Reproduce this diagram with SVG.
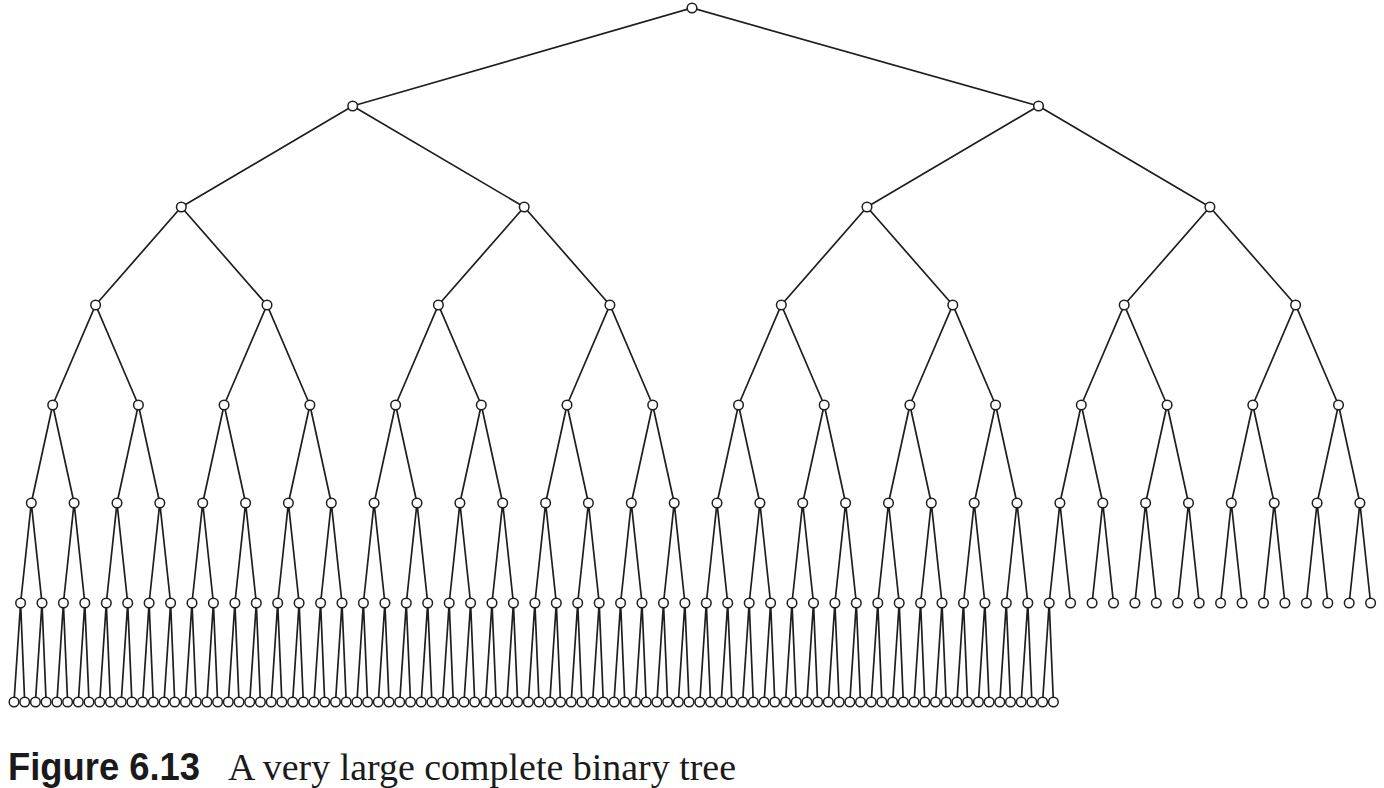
<svg xmlns="http://www.w3.org/2000/svg" width="1384" height="788" viewBox="0 0 1384 788">
<style>
.edge{fill:none;stroke:#1e1e1e;stroke-width:1.7;stroke-linejoin:miter}
.node circle{fill:#fff;stroke:#1e1e1e;stroke-width:1.5}
.cap1{font-family:"Liberation Sans",Arial,sans-serif;font-weight:bold;font-size:39px;fill:#1a1a1a}
.cap2{font-family:"Liberation Serif","Times New Roman",serif;font-size:38px;fill:#1a1a1a}
</style>
<rect width="1384" height="788" fill="#fff"/>
<g id="connectors">
<path class="edge" d="M352.7 106L692 8L1038.5 106"/>
<path class="edge" d="M181.3 207L352.7 106L524.2 207M867.0 207L1038.5 106L1209.9 207"/>
<path class="edge" d="M95.6 305L181.3 207L267.0 305M438.4 305L524.2 207L609.9 305M781.3 305L867.0 207L952.8 305M1124.2 305L1209.9 207L1295.6 305"/>
<path class="edge" d="M52.7 405L95.6 305L138.4 405M224.1 405L267.0 305L309.9 405M395.6 405L438.4 305L481.3 405M567.0 405L609.9 305L652.7 405M738.5 405L781.3 305L824.2 405M909.9 405L952.8 305L995.6 405M1081.3 405L1124.2 305L1167.1 405M1252.8 405L1295.6 305L1338.5 405"/>
<path class="edge" d="M31.3 503L52.7 405L74.1 503M117.0 503L138.4 405L159.8 503M202.7 503L224.1 405L245.6 503M288.4 503L309.9 405L331.3 503M374.1 503L395.6 405L417.0 503M459.9 503L481.3 405L502.7 503M545.6 503L567.0 405L588.4 503M631.3 503L652.7 405L674.2 503M717.0 503L738.5 405L759.9 503M802.7 503L824.2 405L845.6 503M888.5 503L909.9 405L931.3 503M974.2 503L995.6 405L1017.0 503M1059.9 503L1081.3 405L1102.8 503M1145.6 503L1167.1 405L1188.5 503M1231.3 503L1252.8 405L1274.2 503M1317.1 503L1338.5 405L1359.9 503"/>
<path class="edge" d="M20.6 603L31.3 503L42.0 603M63.4 603L74.1 503L84.8 603M106.3 603L117.0 503L127.7 603M149.1 603L159.8 503L170.6 603M192.0 603L202.7 503L213.4 603M234.9 603L245.6 503L256.3 603M277.7 603L288.4 503L299.1 603M320.6 603L331.3 503L342.0 603M363.4 603L374.1 503L384.9 603M406.3 603L417.0 503L427.7 603M449.2 603L459.9 503L470.6 603M492.0 603L502.7 503L513.4 603M534.9 603L545.6 503L556.3 603M577.7 603L588.4 503L599.2 603M620.6 603L631.3 503L642.0 603M663.5 603L674.2 503L684.9 603M706.3 603L717.0 503L727.7 603M749.2 603L759.9 503L770.6 603M792.0 603L802.7 503L813.5 603M834.9 603L845.6 503L856.3 603M877.8 603L888.5 503L899.2 603M920.6 603L931.3 503L942.0 603M963.5 603L974.2 503L984.9 603M1006.3 603L1017.0 503L1027.8 603M1049.2 603L1059.9 503L1070.6 603M1092.1 603L1102.8 503L1113.5 603M1134.9 603L1145.6 503L1156.3 603M1177.8 603L1188.5 503L1199.2 603M1220.6 603L1231.3 503L1242.1 603M1263.5 603L1274.2 503L1284.9 603M1306.4 603L1317.1 503L1327.8 603M1349.2 603L1359.9 503L1370.6 603"/>
<path class="edge" d="M14.0 702L20.6 603L24.7 702M35.4 702L42.0 603L46.1 702M56.9 702L63.4 603L67.6 702M78.3 702L84.8 603L89.0 702M99.7 702L106.3 603L110.4 702M121.2 702L127.7 603L131.9 702M142.6 702L149.1 603L153.3 702M164.0 702L170.6 603L174.7 702M185.4 702L192.0 603L196.2 702M206.9 702L213.4 603L217.6 702M228.3 702L234.9 603L239.0 702M249.7 702L256.3 603L260.4 702M271.2 702L277.7 603L281.9 702M292.6 702L299.1 603L303.3 702M314.0 702L320.6 603L324.7 702M335.5 702L342.0 603L346.2 702M356.9 702L363.4 603L367.6 702M378.3 702L384.9 603L389.0 702M399.7 702L406.3 603L410.5 702M421.2 702L427.7 603L431.9 702M442.6 702L449.2 603L453.3 702M464.0 702L470.6 603L474.7 702M485.5 702L492.0 603L496.2 702M506.9 702L513.4 603L517.6 702M528.3 702L534.9 603L539.0 702M549.8 702L556.3 603L560.5 702M571.2 702L577.7 603L581.9 702M592.6 702L599.2 603L603.3 702M614.0 702L620.6 603L624.8 702M635.5 702L642.0 603L646.2 702M656.9 702L663.5 603L667.6 702M678.3 702L684.9 603L689.0 702M699.8 702L706.3 603L710.5 702M721.2 702L727.7 603L731.9 702M742.6 702L749.2 603L753.3 702M764.1 702L770.6 603L774.8 702M785.5 702L792.0 603L796.2 702M806.9 702L813.5 603L817.6 702M828.3 702L834.9 603L839.1 702M849.8 702L856.3 603L860.5 702M871.2 702L877.8 603L881.9 702M892.6 702L899.2 603L903.3 702M914.1 702L920.6 603L924.8 702M935.5 702L942.0 603L946.2 702M956.9 702L963.5 603L967.6 702M978.4 702L984.9 603L989.1 702M999.8 702L1006.3 603L1010.5 702M1021.2 702L1027.8 603L1031.9 702M1042.6 702L1049.2 603L1053.4 702"/>
</g>
<g id="nodes" class="node">
<g id="n0-0"><circle cx="692" cy="8" r="4.8"/></g>
<g id="n1-0"><circle cx="352.7" cy="106" r="4.8"/></g>
<g id="n1-1"><circle cx="1038.5" cy="106" r="4.8"/></g>
<g id="n2-0"><circle cx="181.3" cy="207" r="4.8"/></g>
<g id="n2-1"><circle cx="524.2" cy="207" r="4.8"/></g>
<g id="n2-2"><circle cx="867.0" cy="207" r="4.8"/></g>
<g id="n2-3"><circle cx="1209.9" cy="207" r="4.8"/></g>
<g id="n3-0"><circle cx="95.6" cy="305" r="4.8"/></g>
<g id="n3-1"><circle cx="267.0" cy="305" r="4.8"/></g>
<g id="n3-2"><circle cx="438.4" cy="305" r="4.8"/></g>
<g id="n3-3"><circle cx="609.9" cy="305" r="4.8"/></g>
<g id="n3-4"><circle cx="781.3" cy="305" r="4.8"/></g>
<g id="n3-5"><circle cx="952.8" cy="305" r="4.8"/></g>
<g id="n3-6"><circle cx="1124.2" cy="305" r="4.8"/></g>
<g id="n3-7"><circle cx="1295.6" cy="305" r="4.8"/></g>
<g id="n4-0"><circle cx="52.7" cy="405" r="4.8"/></g>
<g id="n4-1"><circle cx="138.4" cy="405" r="4.8"/></g>
<g id="n4-2"><circle cx="224.1" cy="405" r="4.8"/></g>
<g id="n4-3"><circle cx="309.9" cy="405" r="4.8"/></g>
<g id="n4-4"><circle cx="395.6" cy="405" r="4.8"/></g>
<g id="n4-5"><circle cx="481.3" cy="405" r="4.8"/></g>
<g id="n4-6"><circle cx="567.0" cy="405" r="4.8"/></g>
<g id="n4-7"><circle cx="652.7" cy="405" r="4.8"/></g>
<g id="n4-8"><circle cx="738.5" cy="405" r="4.8"/></g>
<g id="n4-9"><circle cx="824.2" cy="405" r="4.8"/></g>
<g id="n4-10"><circle cx="909.9" cy="405" r="4.8"/></g>
<g id="n4-11"><circle cx="995.6" cy="405" r="4.8"/></g>
<g id="n4-12"><circle cx="1081.3" cy="405" r="4.8"/></g>
<g id="n4-13"><circle cx="1167.1" cy="405" r="4.8"/></g>
<g id="n4-14"><circle cx="1252.8" cy="405" r="4.8"/></g>
<g id="n4-15"><circle cx="1338.5" cy="405" r="4.8"/></g>
<g id="n5-0"><circle cx="31.3" cy="503" r="4.8"/></g>
<g id="n5-1"><circle cx="74.1" cy="503" r="4.8"/></g>
<g id="n5-2"><circle cx="117.0" cy="503" r="4.8"/></g>
<g id="n5-3"><circle cx="159.8" cy="503" r="4.8"/></g>
<g id="n5-4"><circle cx="202.7" cy="503" r="4.8"/></g>
<g id="n5-5"><circle cx="245.6" cy="503" r="4.8"/></g>
<g id="n5-6"><circle cx="288.4" cy="503" r="4.8"/></g>
<g id="n5-7"><circle cx="331.3" cy="503" r="4.8"/></g>
<g id="n5-8"><circle cx="374.1" cy="503" r="4.8"/></g>
<g id="n5-9"><circle cx="417.0" cy="503" r="4.8"/></g>
<g id="n5-10"><circle cx="459.9" cy="503" r="4.8"/></g>
<g id="n5-11"><circle cx="502.7" cy="503" r="4.8"/></g>
<g id="n5-12"><circle cx="545.6" cy="503" r="4.8"/></g>
<g id="n5-13"><circle cx="588.4" cy="503" r="4.8"/></g>
<g id="n5-14"><circle cx="631.3" cy="503" r="4.8"/></g>
<g id="n5-15"><circle cx="674.2" cy="503" r="4.8"/></g>
<g id="n5-16"><circle cx="717.0" cy="503" r="4.8"/></g>
<g id="n5-17"><circle cx="759.9" cy="503" r="4.8"/></g>
<g id="n5-18"><circle cx="802.7" cy="503" r="4.8"/></g>
<g id="n5-19"><circle cx="845.6" cy="503" r="4.8"/></g>
<g id="n5-20"><circle cx="888.5" cy="503" r="4.8"/></g>
<g id="n5-21"><circle cx="931.3" cy="503" r="4.8"/></g>
<g id="n5-22"><circle cx="974.2" cy="503" r="4.8"/></g>
<g id="n5-23"><circle cx="1017.0" cy="503" r="4.8"/></g>
<g id="n5-24"><circle cx="1059.9" cy="503" r="4.8"/></g>
<g id="n5-25"><circle cx="1102.8" cy="503" r="4.8"/></g>
<g id="n5-26"><circle cx="1145.6" cy="503" r="4.8"/></g>
<g id="n5-27"><circle cx="1188.5" cy="503" r="4.8"/></g>
<g id="n5-28"><circle cx="1231.3" cy="503" r="4.8"/></g>
<g id="n5-29"><circle cx="1274.2" cy="503" r="4.8"/></g>
<g id="n5-30"><circle cx="1317.1" cy="503" r="4.8"/></g>
<g id="n5-31"><circle cx="1359.9" cy="503" r="4.8"/></g>
<g id="n6-0"><circle cx="20.6" cy="603" r="4.8"/></g>
<g id="n6-1"><circle cx="42.0" cy="603" r="4.8"/></g>
<g id="n6-2"><circle cx="63.4" cy="603" r="4.8"/></g>
<g id="n6-3"><circle cx="84.8" cy="603" r="4.8"/></g>
<g id="n6-4"><circle cx="106.3" cy="603" r="4.8"/></g>
<g id="n6-5"><circle cx="127.7" cy="603" r="4.8"/></g>
<g id="n6-6"><circle cx="149.1" cy="603" r="4.8"/></g>
<g id="n6-7"><circle cx="170.6" cy="603" r="4.8"/></g>
<g id="n6-8"><circle cx="192.0" cy="603" r="4.8"/></g>
<g id="n6-9"><circle cx="213.4" cy="603" r="4.8"/></g>
<g id="n6-10"><circle cx="234.9" cy="603" r="4.8"/></g>
<g id="n6-11"><circle cx="256.3" cy="603" r="4.8"/></g>
<g id="n6-12"><circle cx="277.7" cy="603" r="4.8"/></g>
<g id="n6-13"><circle cx="299.1" cy="603" r="4.8"/></g>
<g id="n6-14"><circle cx="320.6" cy="603" r="4.8"/></g>
<g id="n6-15"><circle cx="342.0" cy="603" r="4.8"/></g>
<g id="n6-16"><circle cx="363.4" cy="603" r="4.8"/></g>
<g id="n6-17"><circle cx="384.9" cy="603" r="4.8"/></g>
<g id="n6-18"><circle cx="406.3" cy="603" r="4.8"/></g>
<g id="n6-19"><circle cx="427.7" cy="603" r="4.8"/></g>
<g id="n6-20"><circle cx="449.2" cy="603" r="4.8"/></g>
<g id="n6-21"><circle cx="470.6" cy="603" r="4.8"/></g>
<g id="n6-22"><circle cx="492.0" cy="603" r="4.8"/></g>
<g id="n6-23"><circle cx="513.4" cy="603" r="4.8"/></g>
<g id="n6-24"><circle cx="534.9" cy="603" r="4.8"/></g>
<g id="n6-25"><circle cx="556.3" cy="603" r="4.8"/></g>
<g id="n6-26"><circle cx="577.7" cy="603" r="4.8"/></g>
<g id="n6-27"><circle cx="599.2" cy="603" r="4.8"/></g>
<g id="n6-28"><circle cx="620.6" cy="603" r="4.8"/></g>
<g id="n6-29"><circle cx="642.0" cy="603" r="4.8"/></g>
<g id="n6-30"><circle cx="663.5" cy="603" r="4.8"/></g>
<g id="n6-31"><circle cx="684.9" cy="603" r="4.8"/></g>
<g id="n6-32"><circle cx="706.3" cy="603" r="4.8"/></g>
<g id="n6-33"><circle cx="727.7" cy="603" r="4.8"/></g>
<g id="n6-34"><circle cx="749.2" cy="603" r="4.8"/></g>
<g id="n6-35"><circle cx="770.6" cy="603" r="4.8"/></g>
<g id="n6-36"><circle cx="792.0" cy="603" r="4.8"/></g>
<g id="n6-37"><circle cx="813.5" cy="603" r="4.8"/></g>
<g id="n6-38"><circle cx="834.9" cy="603" r="4.8"/></g>
<g id="n6-39"><circle cx="856.3" cy="603" r="4.8"/></g>
<g id="n6-40"><circle cx="877.8" cy="603" r="4.8"/></g>
<g id="n6-41"><circle cx="899.2" cy="603" r="4.8"/></g>
<g id="n6-42"><circle cx="920.6" cy="603" r="4.8"/></g>
<g id="n6-43"><circle cx="942.0" cy="603" r="4.8"/></g>
<g id="n6-44"><circle cx="963.5" cy="603" r="4.8"/></g>
<g id="n6-45"><circle cx="984.9" cy="603" r="4.8"/></g>
<g id="n6-46"><circle cx="1006.3" cy="603" r="4.8"/></g>
<g id="n6-47"><circle cx="1027.8" cy="603" r="4.8"/></g>
<g id="n6-48"><circle cx="1049.2" cy="603" r="4.8"/></g>
<g id="n6-49"><circle cx="1070.6" cy="603" r="4.8"/></g>
<g id="n6-50"><circle cx="1092.1" cy="603" r="4.8"/></g>
<g id="n6-51"><circle cx="1113.5" cy="603" r="4.8"/></g>
<g id="n6-52"><circle cx="1134.9" cy="603" r="4.8"/></g>
<g id="n6-53"><circle cx="1156.3" cy="603" r="4.8"/></g>
<g id="n6-54"><circle cx="1177.8" cy="603" r="4.8"/></g>
<g id="n6-55"><circle cx="1199.2" cy="603" r="4.8"/></g>
<g id="n6-56"><circle cx="1220.6" cy="603" r="4.8"/></g>
<g id="n6-57"><circle cx="1242.1" cy="603" r="4.8"/></g>
<g id="n6-58"><circle cx="1263.5" cy="603" r="4.8"/></g>
<g id="n6-59"><circle cx="1284.9" cy="603" r="4.8"/></g>
<g id="n6-60"><circle cx="1306.4" cy="603" r="4.8"/></g>
<g id="n6-61"><circle cx="1327.8" cy="603" r="4.8"/></g>
<g id="n6-62"><circle cx="1349.2" cy="603" r="4.8"/></g>
<g id="n6-63"><circle cx="1370.6" cy="603" r="4.8"/></g>
<g id="n7-0"><circle cx="14.0" cy="702" r="4.8"/></g>
<g id="n7-1"><circle cx="24.7" cy="702" r="4.8"/></g>
<g id="n7-2"><circle cx="35.4" cy="702" r="4.8"/></g>
<g id="n7-3"><circle cx="46.1" cy="702" r="4.8"/></g>
<g id="n7-4"><circle cx="56.9" cy="702" r="4.8"/></g>
<g id="n7-5"><circle cx="67.6" cy="702" r="4.8"/></g>
<g id="n7-6"><circle cx="78.3" cy="702" r="4.8"/></g>
<g id="n7-7"><circle cx="89.0" cy="702" r="4.8"/></g>
<g id="n7-8"><circle cx="99.7" cy="702" r="4.8"/></g>
<g id="n7-9"><circle cx="110.4" cy="702" r="4.8"/></g>
<g id="n7-10"><circle cx="121.2" cy="702" r="4.8"/></g>
<g id="n7-11"><circle cx="131.9" cy="702" r="4.8"/></g>
<g id="n7-12"><circle cx="142.6" cy="702" r="4.8"/></g>
<g id="n7-13"><circle cx="153.3" cy="702" r="4.8"/></g>
<g id="n7-14"><circle cx="164.0" cy="702" r="4.8"/></g>
<g id="n7-15"><circle cx="174.7" cy="702" r="4.8"/></g>
<g id="n7-16"><circle cx="185.4" cy="702" r="4.8"/></g>
<g id="n7-17"><circle cx="196.2" cy="702" r="4.8"/></g>
<g id="n7-18"><circle cx="206.9" cy="702" r="4.8"/></g>
<g id="n7-19"><circle cx="217.6" cy="702" r="4.8"/></g>
<g id="n7-20"><circle cx="228.3" cy="702" r="4.8"/></g>
<g id="n7-21"><circle cx="239.0" cy="702" r="4.8"/></g>
<g id="n7-22"><circle cx="249.7" cy="702" r="4.8"/></g>
<g id="n7-23"><circle cx="260.4" cy="702" r="4.8"/></g>
<g id="n7-24"><circle cx="271.2" cy="702" r="4.8"/></g>
<g id="n7-25"><circle cx="281.9" cy="702" r="4.8"/></g>
<g id="n7-26"><circle cx="292.6" cy="702" r="4.8"/></g>
<g id="n7-27"><circle cx="303.3" cy="702" r="4.8"/></g>
<g id="n7-28"><circle cx="314.0" cy="702" r="4.8"/></g>
<g id="n7-29"><circle cx="324.7" cy="702" r="4.8"/></g>
<g id="n7-30"><circle cx="335.5" cy="702" r="4.8"/></g>
<g id="n7-31"><circle cx="346.2" cy="702" r="4.8"/></g>
<g id="n7-32"><circle cx="356.9" cy="702" r="4.8"/></g>
<g id="n7-33"><circle cx="367.6" cy="702" r="4.8"/></g>
<g id="n7-34"><circle cx="378.3" cy="702" r="4.8"/></g>
<g id="n7-35"><circle cx="389.0" cy="702" r="4.8"/></g>
<g id="n7-36"><circle cx="399.7" cy="702" r="4.8"/></g>
<g id="n7-37"><circle cx="410.5" cy="702" r="4.8"/></g>
<g id="n7-38"><circle cx="421.2" cy="702" r="4.8"/></g>
<g id="n7-39"><circle cx="431.9" cy="702" r="4.8"/></g>
<g id="n7-40"><circle cx="442.6" cy="702" r="4.8"/></g>
<g id="n7-41"><circle cx="453.3" cy="702" r="4.8"/></g>
<g id="n7-42"><circle cx="464.0" cy="702" r="4.8"/></g>
<g id="n7-43"><circle cx="474.7" cy="702" r="4.8"/></g>
<g id="n7-44"><circle cx="485.5" cy="702" r="4.8"/></g>
<g id="n7-45"><circle cx="496.2" cy="702" r="4.8"/></g>
<g id="n7-46"><circle cx="506.9" cy="702" r="4.8"/></g>
<g id="n7-47"><circle cx="517.6" cy="702" r="4.8"/></g>
<g id="n7-48"><circle cx="528.3" cy="702" r="4.8"/></g>
<g id="n7-49"><circle cx="539.0" cy="702" r="4.8"/></g>
<g id="n7-50"><circle cx="549.8" cy="702" r="4.8"/></g>
<g id="n7-51"><circle cx="560.5" cy="702" r="4.8"/></g>
<g id="n7-52"><circle cx="571.2" cy="702" r="4.8"/></g>
<g id="n7-53"><circle cx="581.9" cy="702" r="4.8"/></g>
<g id="n7-54"><circle cx="592.6" cy="702" r="4.8"/></g>
<g id="n7-55"><circle cx="603.3" cy="702" r="4.8"/></g>
<g id="n7-56"><circle cx="614.0" cy="702" r="4.8"/></g>
<g id="n7-57"><circle cx="624.8" cy="702" r="4.8"/></g>
<g id="n7-58"><circle cx="635.5" cy="702" r="4.8"/></g>
<g id="n7-59"><circle cx="646.2" cy="702" r="4.8"/></g>
<g id="n7-60"><circle cx="656.9" cy="702" r="4.8"/></g>
<g id="n7-61"><circle cx="667.6" cy="702" r="4.8"/></g>
<g id="n7-62"><circle cx="678.3" cy="702" r="4.8"/></g>
<g id="n7-63"><circle cx="689.0" cy="702" r="4.8"/></g>
<g id="n7-64"><circle cx="699.8" cy="702" r="4.8"/></g>
<g id="n7-65"><circle cx="710.5" cy="702" r="4.8"/></g>
<g id="n7-66"><circle cx="721.2" cy="702" r="4.8"/></g>
<g id="n7-67"><circle cx="731.9" cy="702" r="4.8"/></g>
<g id="n7-68"><circle cx="742.6" cy="702" r="4.8"/></g>
<g id="n7-69"><circle cx="753.3" cy="702" r="4.8"/></g>
<g id="n7-70"><circle cx="764.1" cy="702" r="4.8"/></g>
<g id="n7-71"><circle cx="774.8" cy="702" r="4.8"/></g>
<g id="n7-72"><circle cx="785.5" cy="702" r="4.8"/></g>
<g id="n7-73"><circle cx="796.2" cy="702" r="4.8"/></g>
<g id="n7-74"><circle cx="806.9" cy="702" r="4.8"/></g>
<g id="n7-75"><circle cx="817.6" cy="702" r="4.8"/></g>
<g id="n7-76"><circle cx="828.3" cy="702" r="4.8"/></g>
<g id="n7-77"><circle cx="839.1" cy="702" r="4.8"/></g>
<g id="n7-78"><circle cx="849.8" cy="702" r="4.8"/></g>
<g id="n7-79"><circle cx="860.5" cy="702" r="4.8"/></g>
<g id="n7-80"><circle cx="871.2" cy="702" r="4.8"/></g>
<g id="n7-81"><circle cx="881.9" cy="702" r="4.8"/></g>
<g id="n7-82"><circle cx="892.6" cy="702" r="4.8"/></g>
<g id="n7-83"><circle cx="903.3" cy="702" r="4.8"/></g>
<g id="n7-84"><circle cx="914.1" cy="702" r="4.8"/></g>
<g id="n7-85"><circle cx="924.8" cy="702" r="4.8"/></g>
<g id="n7-86"><circle cx="935.5" cy="702" r="4.8"/></g>
<g id="n7-87"><circle cx="946.2" cy="702" r="4.8"/></g>
<g id="n7-88"><circle cx="956.9" cy="702" r="4.8"/></g>
<g id="n7-89"><circle cx="967.6" cy="702" r="4.8"/></g>
<g id="n7-90"><circle cx="978.4" cy="702" r="4.8"/></g>
<g id="n7-91"><circle cx="989.1" cy="702" r="4.8"/></g>
<g id="n7-92"><circle cx="999.8" cy="702" r="4.8"/></g>
<g id="n7-93"><circle cx="1010.5" cy="702" r="4.8"/></g>
<g id="n7-94"><circle cx="1021.2" cy="702" r="4.8"/></g>
<g id="n7-95"><circle cx="1031.9" cy="702" r="4.8"/></g>
<g id="n7-96"><circle cx="1042.6" cy="702" r="4.8"/></g>
<g id="n7-97"><circle cx="1053.4" cy="702" r="4.8"/></g>
</g>
<g id="caption">
<text class="cap1" x="8" y="780" textLength="192" lengthAdjust="spacingAndGlyphs">Figure 6.13</text>
<text class="cap2" x="228" y="780" textLength="508" lengthAdjust="spacingAndGlyphs">A very large complete binary tree</text>
</g>
</svg>
